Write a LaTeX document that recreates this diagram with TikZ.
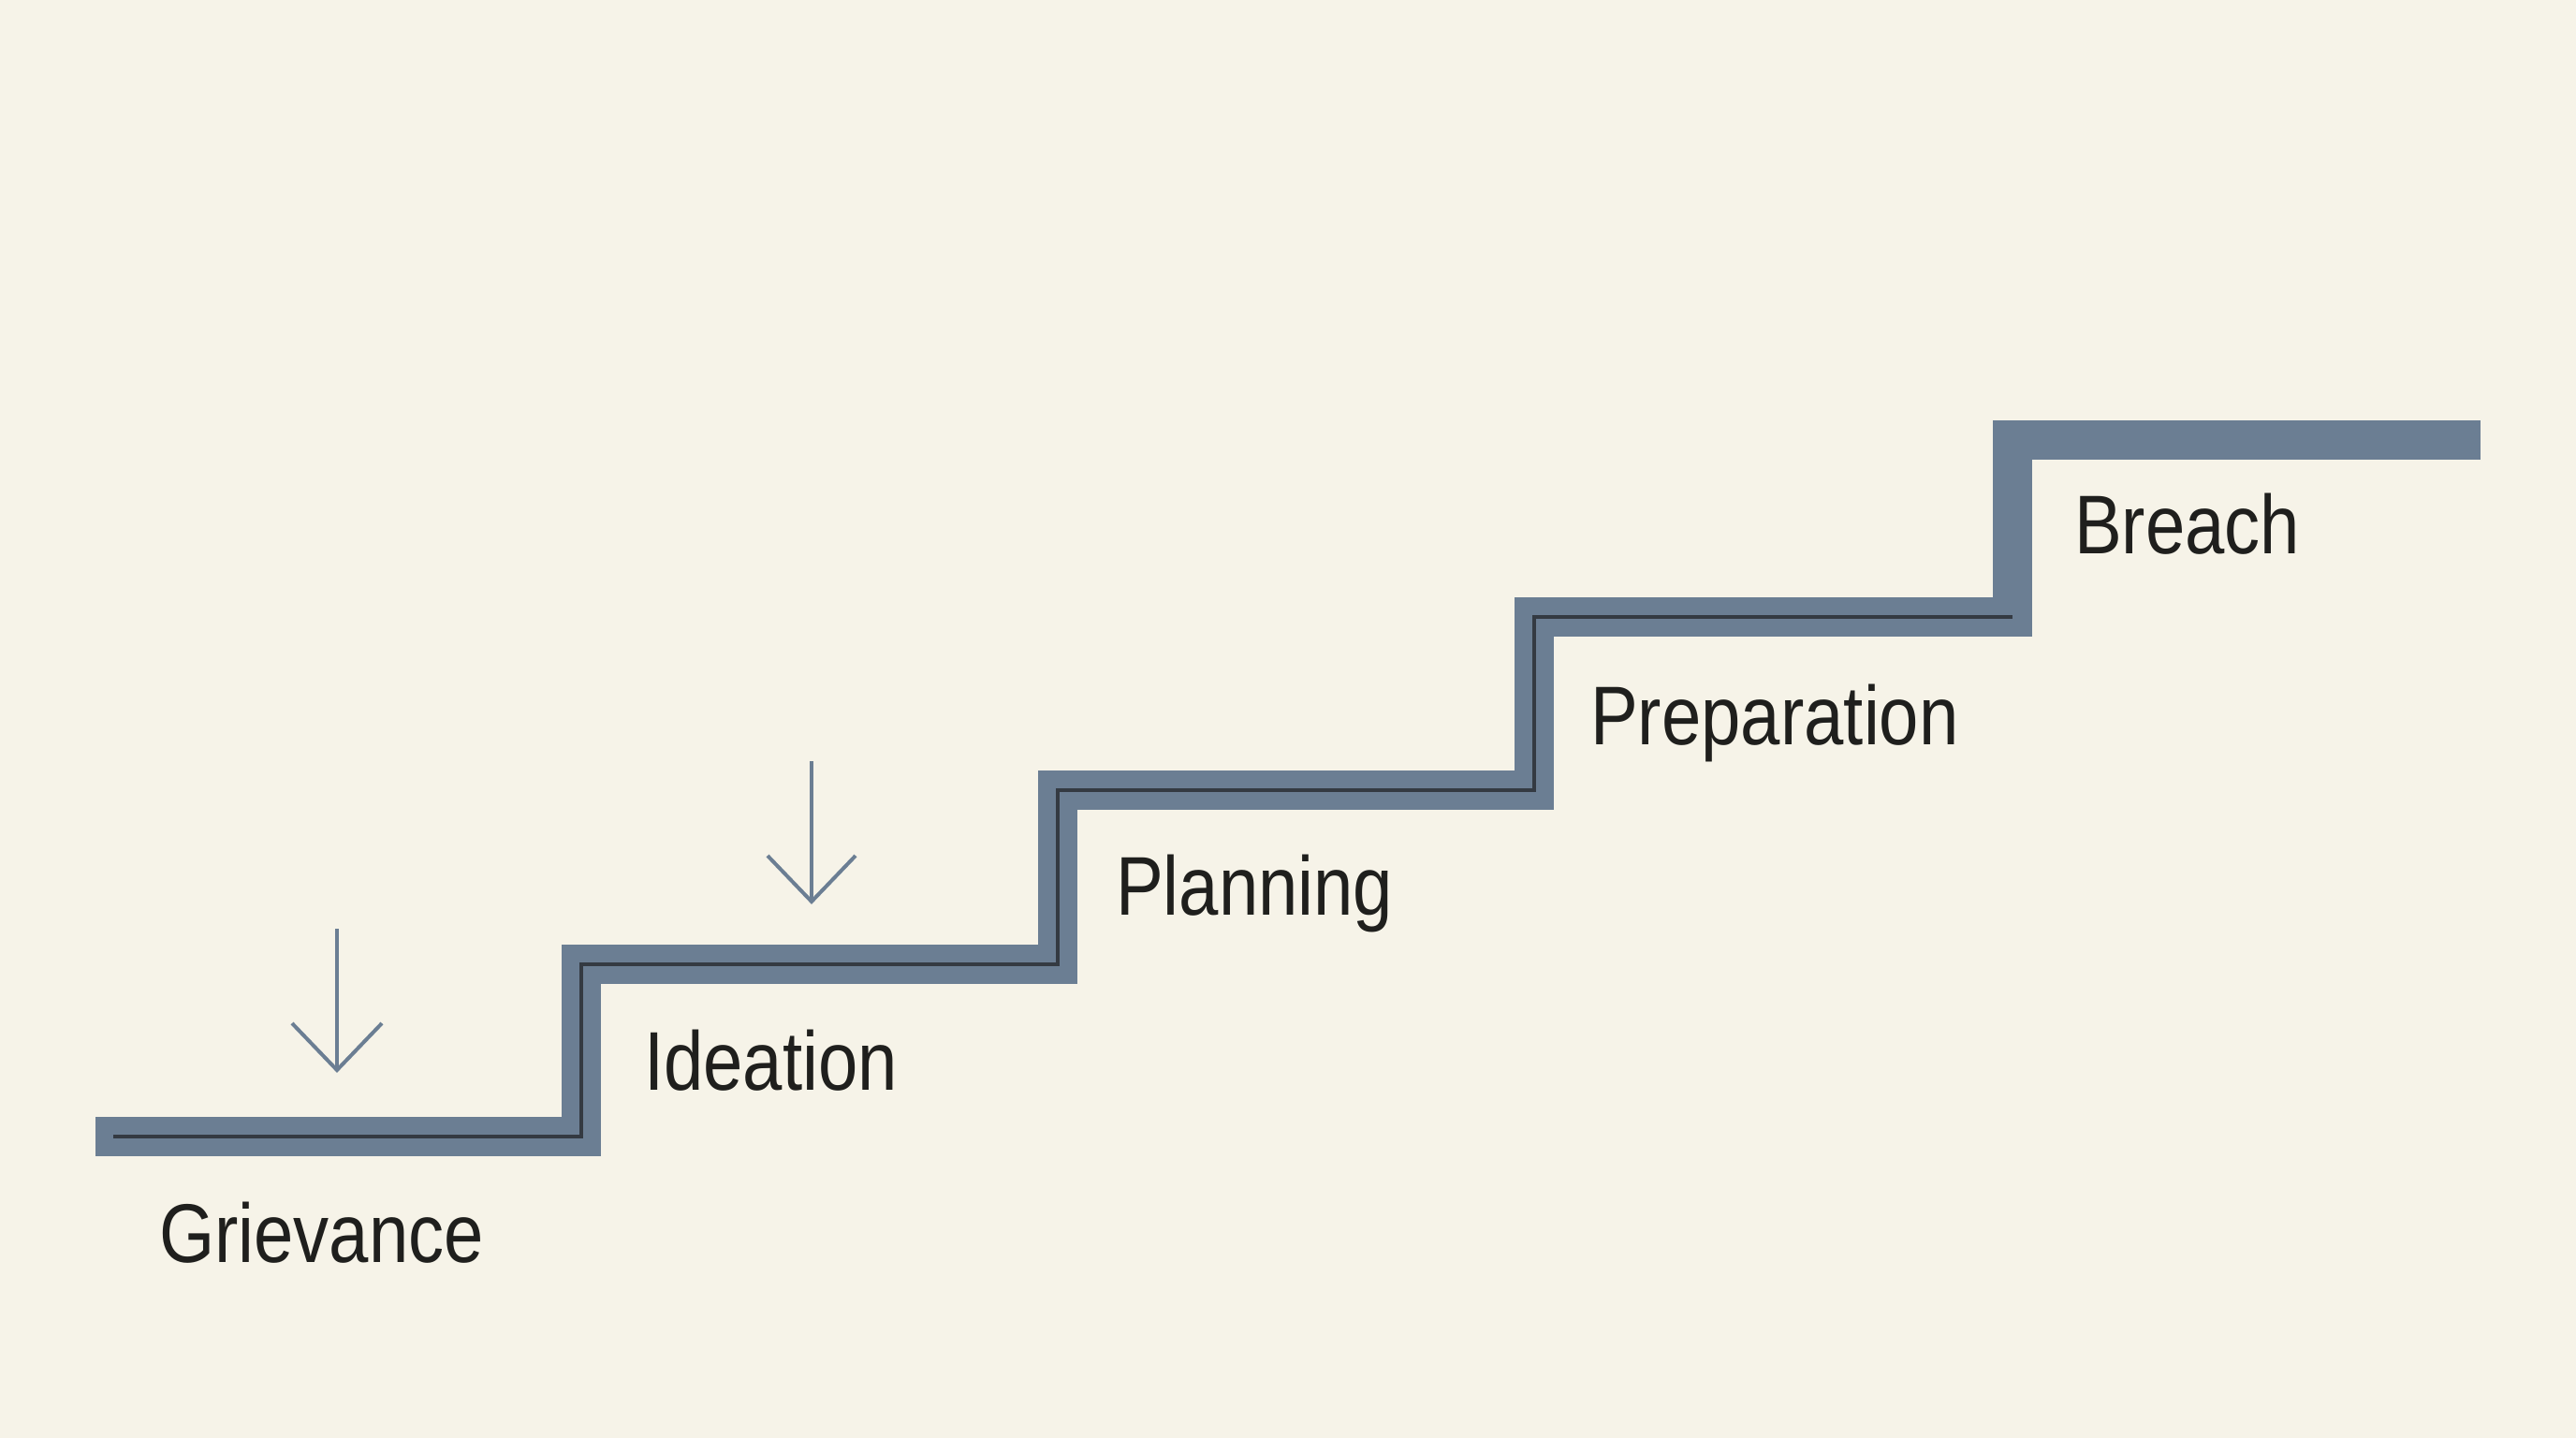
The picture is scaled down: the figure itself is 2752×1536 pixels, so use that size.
\documentclass[tikz,border=0pt]{standalone}
\usepackage{fontspec}
\newfontfamily\labelfont{Liberation Sans}[FakeStretch=0.855]
\definecolor{bgc}{HTML}{F6F3E8}
\definecolor{bandc}{HTML}{6B7E93}
\definecolor{darkc}{HTML}{343A42}
\definecolor{textc}{HTML}{1F1F1D}
\tikzset{
  band/.style={draw=bandc, line width=42pt, line cap=butt, line join=miter},
  inner/.style={draw=darkc, line width=4pt, line cap=butt, line join=miter},
  downarrow/.style={draw=bandc, line width=4pt, line join=miter},
  steplabel/.style={anchor=base west, inner sep=0pt, text=textc, font=\labelfont\fontsize{89}{100}\selectfont}
}
\begin{document}
\begin{tikzpicture}[x=1pt,y=-1pt]
\useasboundingbox (0,0) rectangle (2752,1536);
\fill[bgc] (0,0) rectangle (2752,1536);
% centreline of the staircase
\coordinate (s0) at (102,1213.5);
\coordinate (c1) at (620.5,1213.5);
\coordinate (c2) at (620.5,1029.5);
\coordinate (c3) at (1129.5,1029.5);
\coordinate (c4) at (1129.5,844);
\coordinate (c5) at (1638.5,844);
\coordinate (c6) at (1638.5,659);
\coordinate (c7) at (2150,659);
\coordinate (c8) at (2150,469.5);
\coordinate (s9) at (2650,469.5);
\coordinate (d0) at (121,1213.5);
\draw[band] (s0) -- (c1) -- (c2) -- (c3) -- (c4) -- (c5) -- (c6) -- (c7) -- (c8) -- (s9);
\draw[inner] (d0) -- (c1) -- (c2) -- (c3) -- (c4) -- (c5) -- (c6) -- (c7);
% arrows
\coordinate (a1top) at (360,992);
\coordinate (a1tip) at (360,1143);
\draw[downarrow] (a1top) -- (a1tip);
\draw[downarrow] (a1tip) ++(-48,-50) -- (a1tip) -- ++(48,-50);
\coordinate (a2top) at (867,813);
\coordinate (a2tip) at (867,963);
\draw[downarrow] (a2top) -- (a2tip);
\draw[downarrow] (a2tip) ++(-47,-49) -- (a2tip) -- ++(47,-49);
% labels
\node[steplabel] (griev) at (170,1348) {Grievance};
\node[steplabel] (idea) at (688,1164) {Ideation};
\node[steplabel] (plan) at (1192,977) {Planning};
\node[steplabel] (prep) at (1699,795) {Preparation};
\node[steplabel] (breach) at (2216,591) {Breach};
\end{tikzpicture}
\end{document}
